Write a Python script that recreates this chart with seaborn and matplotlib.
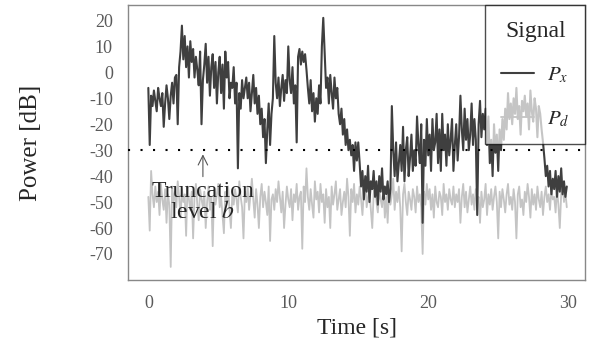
import numpy as np
import pandas as pd
import matplotlib
matplotlib.use("Agg")
import matplotlib.pyplot as plt
import seaborn as sns

# signal values, one row = one second, 0.1 s steps
px_db = [
    -6, -28, -9, -13, -7, -11, -15, -6, -10, -13,
    -8, -21, -12, -5, -10, -18, -9, -4, -12, -2,
    -1, -20, 2, 8, 18, 5, 14, 2, 10, -2,
    12, 4, 9, -2, 6, 1, -5, 8, -20, -3,
    3, 11, -4, 6, -9, 2, 7, -6, 4, -12,
    0, 6, -8, 3, -14, 8, -2, 4, -10, -4,
    -6, 2, -12, -4, -37, -8, -14, -3, -10, -6,
    -2, -10, -4, -15, -8, -1, -12, -6, -16, -9,
    -20, -14, -25, -18, -35, -22, -12, -28, -16, -10,
    14, -4, -10, -2, -13, -6, -1, -11, -3, -8,
    10, -3, -8, 2, -12, -5, -27, 6, 9, 3,
    8, 4, 7, 1, -6, -12, -3, -15, -8, -19,
    -10, -16, -5, -12, 10, 21, 8, -6, -2, -12,
    -1, -8, -14, -2, -10, -6, -16, -20, -14, -24,
    -18, -28, -22, -30, -26, -32, -28, -38, -27, -34,
    -27, -35, -44, -38, -49, -40, -46, -36, -50, -42,
    -45, -38, -48, -42, -51, -40, -46, -37, -49, -44,
    -47, -42, -50, -45, -13, -30, -40, -27, -42, -35,
    -28, -38, -21, -42, -30, -25, -40, -33, -24, -38,
    -30, -36, -17, -28, -35, -20, -58, -26, -36, -18,
    -32, -24, -38, -18, -30, -27, -16, -35, -22, -38,
    -16, -30, -24, -36, -20, -32, -26, -18, -38, -28,
    -20, -34, -25, -9, -22, -30, -14, -26, -18, -30,
    -24, -12, -28, -18, -26, -55, -20, -11, -25, -16,
    -22, -14, -28, -17, -35, -26, -40, -20, -31, -24,
    -38, -22, -30, -18, -26, -14, -22, -8, -18, -12,
    -20, -10, -16, -6, -18, -13, -24, -11, -15, -9,
    -17, -12, -22, -7, -15, -19, -10, -14, -25, -13,
    -16, -22, -27, -33, -40, -36, -44, -38, -47, -41,
    -45, -38, -48, -40, -46, -37, -47, -42, -48, -44,
]

pd_db = [
    -48, -61, -38, -47, -52, -44, -50, -46, -55, -43,
    -49, -53, -45, -58, -47, -51, -75, -44, -50, -46,
    -52, -42, -48, -56, -45, -50, -47, -63, -44, -49,
    -53, -46, -64, -48, -43, -51, -57, -45, -49, -52,
    -46, -60, -50, -44, -53, -48, -67, -45, -51, -47,
    -43, -52, -48, -55, -62, -46, -50, -44, -53, -60,
    -47, -51, -45, -49, -54, -42, -48, -52, -64, -46,
    -50, -44, -53, -47, -41, -49, -56, -45, -51, -60,
    -48, -43, -52, -46, -50, -55, -44, -65, -49, -47,
    -53, -45, -50, -42, -48, -54, -46, -60, -51, -44,
    -49, -52, -45, -57, -47, -50, -43, -53, -48, -46,
    -68, -44, -50, -37, -48, -53, -45, -51, -56, -42,
    -49, -46, -54, -43, -50, -47, -58, -45, -52, -48,
    -60, -44, -51, -47, -42, -53, -49, -45, -55, -50,
    -46, -52, -41, -48, -63, -45, -50, -43, -54, -47,
    -51, -44, -49, -55, -46, -42, -52, -48, -45, -53,
    -60, -47, -43, -50, -54, -45, -49, -52, -44, -56,
    -48, -58, -45, -51, -47, -41, -53, -46, -50, -44,
    -52, -69, -47, -43, -50, -55, -46, -49, -53, -45,
    -48, -54, -44, -50, -47, -52, -70, -46, -51, -43,
    -49, -45, -53, -47, -56, -44, -50, -52, -46, -48,
    -55, -43, -50, -47, -53, -45, -49, -51, -44, -52,
    -47, -50, -45, -58, -48, -43, -52, -46, -54, -49,
    -44, -51, -47, -53, -45, -50, -48, -58, -46, -52,
    -49, -43, -55, -47, -51, -45, -53, -48, -44, -50,
    -64, -46, -52, -45, -49, -54, -47, -43, -51, -48,
    -53, -45, -50, -64, -47, -44, -52, -49, -55, -46,
    -50, -43, -48, -56, -45, -51, -47, -53, -44, -49,
    -52, -46, -55, -48, -44, -50, -47, -53, -45, -49,
    -48, -54, -45, -51, -60, -47, -43, -50, -46, -52,
]

time_s = np.round(np.arange(len(px_db)) * 0.1, 1)
truncation_b = -30
yticks = [20, 10, 0, -10, -20, -30, -40, -50, -60, -70]
xticks = [0, 10, 20, 30]

df = pd.DataFrame({"time": time_s, "Px": px_db, "Pd": pd_db})

sns.set_style("white")
plt.rcParams["font.family"] = ["Liberation Serif", "DejaVu Serif"]
plt.rcParams["mathtext.fontset"] = "stix"
plt.rcParams["axes.unicode_minus"] = False

fig = plt.figure(figsize=(5.9, 3.49), dpi=100)
ax = fig.add_axes([0.217, 0.198, 0.7745, 0.788])

sns.lineplot(data=df, x="time", y="Pd", ax=ax, color="#c4c4c4", lw=1.3,
             label="$P_d$", zorder=2)
sns.lineplot(data=df, x="time", y="Px", ax=ax, color="#3f3f3f", lw=1.5,
             label="$P_x$", zorder=3)
ax.axhline(truncation_b, color="black", lw=1.5, ls=(0, (1.0, 5.0)), zorder=4)

ax.annotate("Truncation\nlevel $b$", xy=(3.9, -31.6), xytext=(3.9, -42.0),
            ha="center", va="top", fontsize=17, linespacing=0.95,
            arrowprops=dict(arrowstyle="->", color="#555555", lw=0.8,
                            shrinkA=1, shrinkB=0))

ax.set_xlim(-1.45, 31.2)
ax.set_ylim(-80, 26)
ax.set_xticks(xticks)
ax.set_yticks(yticks)
ax.tick_params(length=0, pad=11, labelsize=13, labelcolor="#5a5a5a")
ax.set_xlabel("Time [s]", fontsize=17, labelpad=4)
ax.set_ylabel("Power [dB]", fontsize=18, labelpad=34)
for s in ax.spines.values():
    s.set_color("#888888")
    s.set_linewidth(1.0)

h, l = ax.get_legend_handles_labels()
leg = ax.legend([h[1], h[0]], [l[1], l[0]], title="Signal", loc="upper right",
                fontsize=15, title_fontsize=17, frameon=True, fancybox=False,
                framealpha=0.7, edgecolor="black", borderaxespad=0,
                handlelength=1.6, handletextpad=0.6, labelspacing=1.15,
                borderpad=0.75)
leg.get_frame().set_linewidth(1.0)

fig.savefig("out.png", dpi=100)
